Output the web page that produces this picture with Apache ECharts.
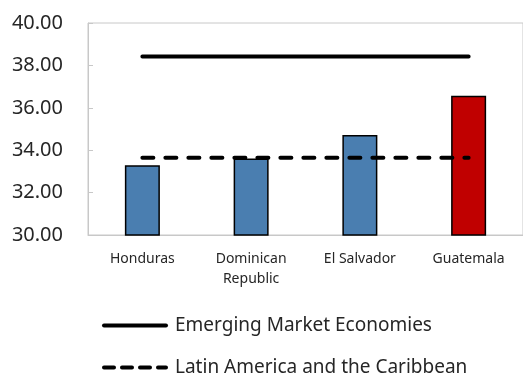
<!DOCTYPE html>
<html><head><meta charset="utf-8">
<script src="https://cdn.jsdelivr.net/npm/echarts@6/dist/echarts.min.js"></script>
<style>html,body{margin:0;padding:0;background:#fff}#c{width:523px;height:374px}</style>
</head><body><div id="c"></div>
<script>
var categories = ['Honduras', 'Dominican\nRepublic', 'El Salvador', 'Guatemala'];
var countryValues = [33.29, 33.61, 34.72, 36.57];
var emergingMarkets = [38.42, 38.42, 38.42, 38.42];
var latinAmerica = [33.64, 33.64, 33.64, 33.64];
var yTicks = [30, 32, 34, 36, 38, 40];
var barColors = ['#4A7EB0', '#4A7EB0', '#4A7EB0', '#C00000'];
var seriesNames = ['Emerging Market Economies', 'Latin America and the Caribbean'];

var font = '"Noto Sans", "Open Sans", sans-serif';
var legendText = {fontFamily: font, fontSize: 19, color: '#262626', padding: [0, 0, 0, 4]};
var chart = echarts.init(document.getElementById('c'), null, {renderer: 'canvas'});
chart.setOption({
  animation: false,
  grid: {left: 88, top: 23, right: -2, bottom: 139, show: true, borderColor: '#c8c8c8', borderWidth: 1},
  legend: [
    {left: 97, top: 311, itemWidth: 62, itemHeight: 14, textStyle: legendText,
      data: [{name: seriesNames[0], itemStyle: {opacity: 0}, lineStyle: {width: 4, color: '#000', cap: 'round'}}]},
    {left: 97, top: 353, itemWidth: 62, itemHeight: 14, textStyle: legendText,
      data: [{name: seriesNames[1], itemStyle: {opacity: 0}, lineStyle: {width: 4, color: '#000', cap: 'round', type: [10, 8]}}]}
  ],
  xAxis: {
    type: 'category', data: categories,
    axisLine: {lineStyle: {color: '#c8c8c8'}},
    axisTick: {inside: true, length: 5, lineStyle: {color: '#c8c8c8'}},
    axisLabel: {fontFamily: font, fontSize: 14, color: '#262626', margin: 14, lineHeight: 20}
  },
  yAxis: {
    type: 'value', min: yTicks[0], max: yTicks[yTicks.length - 1], interval: 2,
    axisLine: {show: true, lineStyle: {color: '#c8c8c8'}},
    axisTick: {show: true, inside: true, length: 5, lineStyle: {color: '#c8c8c8'}},
    splitLine: {show: false},
    axisLabel: {fontFamily: font, fontSize: 20, color: '#262626', margin: 25,
      formatter: function (v) { return v.toFixed(2); }}
  },
  series: [
    {type: 'bar', barWidth: 35, z: 2,
      data: countryValues.map(function (v, i) {
        return {value: v, itemStyle: {color: barColors[i]}};
      }),
      itemStyle: {borderColor: '#000', borderWidth: 1.5}},
    {name: seriesNames[0], type: 'line', data: emergingMarkets, symbol: 'none', z: 3,
      lineStyle: {color: '#000', width: 4, cap: 'round'}, itemStyle: {color: '#000'}},
    {name: seriesNames[1], type: 'line', data: latinAmerica, symbol: 'none', z: 3,
      lineStyle: {color: '#000', width: 4, cap: 'round', type: [11, 12]}, itemStyle: {color: '#000'}}
  ]
});
</script></body></html>
